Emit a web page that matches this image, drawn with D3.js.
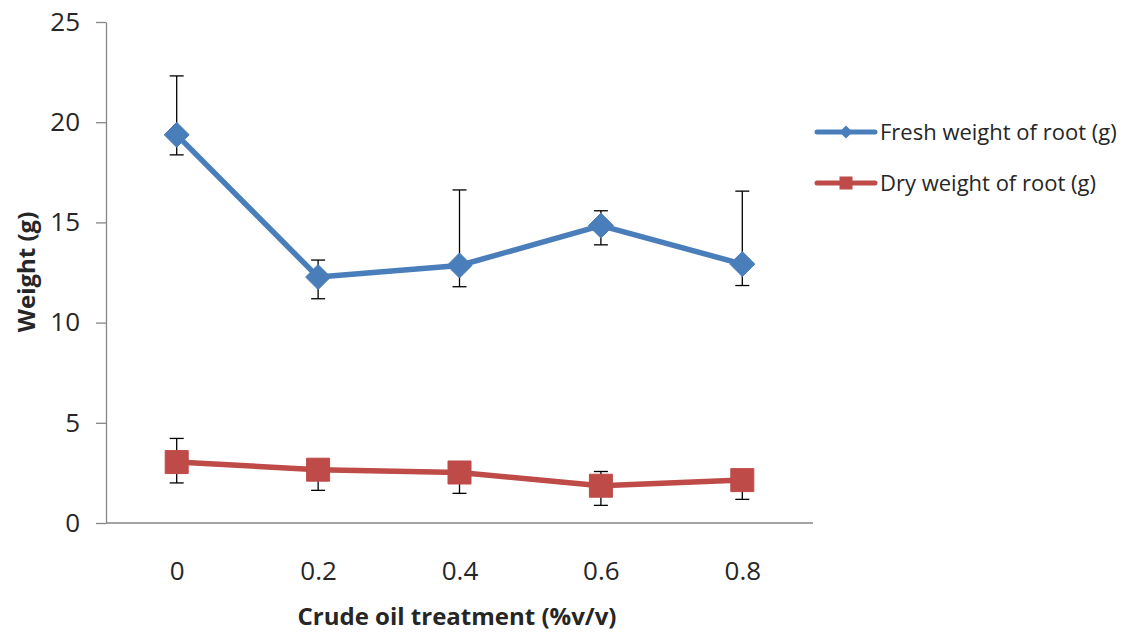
<!DOCTYPE html>
<html>
<head>
<meta charset="utf-8">
<script src="https://cdn.jsdelivr.net/npm/d3@7"></script>
<style>
  html, body { margin: 0; padding: 0; background: #ffffff; }
  svg { display: block; }
  text { font-family: "Open Sans", "Liberation Sans", sans-serif; fill: #262626; }
</style>
</head>
<body>
<svg id="chart" width="1135" height="633"></svg>
<script>
// ---- data ----
const categories = ["0", "0.2", "0.4", "0.6", "0.8"];
const freshMean = [19.37, 12.27, 12.85, 14.84, 12.92];
const freshHigh = [22.31, 13.12, 16.62, 15.58, 16.56];
const freshLow  = [18.37, 11.19, 11.79, 13.88, 11.85];
const dryMean = [3.04, 2.66, 2.52, 1.86, 2.14];
const dryHigh = [4.22, 2.90, 2.80, 2.57, 2.40];
const dryLow  = [2.00, 1.63, 1.48, 0.88, 1.18];
const yTicks = [0, 5, 10, 15, 20, 25];
const seriesNames = ["Fresh weight of root (g)", "Dry weight of root (g)"];
const xTitle = "Crude oil treatment (%v/v)";
const yTitle = "Weight (g)";

const series = [
  { name: seriesNames[0], mean: freshMean, high: freshHigh, low: freshLow, color: "#4A7EBB", marker: "diamond" },
  { name: seriesNames[1], mean: dryMean, high: dryHigh, low: dryLow, color: "#BE4B48", marker: "square" }
];

const svg = d3.select("#chart");
const plot = { left: 106, right: 813, top: 22, bottom: 523 };

const x = d3.scalePoint().domain(categories).range([plot.left, plot.right]).padding(0.5);
const y = d3.scaleLinear().domain([0, 25]).range([plot.bottom, plot.top]);

// y axis
const yAxis = svg.append("g")
  .attr("transform", `translate(${plot.left},0)`)
  .call(d3.axisLeft(y).tickValues(yTicks).tickSize(10).tickPadding(16).tickSizeOuter(0));
yAxis.select(".domain").attr("stroke", "#868686").attr("stroke-width", 1.3);
yAxis.selectAll(".tick line").attr("stroke", "#868686").attr("stroke-width", 1.3);
yAxis.selectAll(".tick text").attr("font-size", 26).attr("fill", "#262626")
  .attr("font-family", "'Open Sans', sans-serif");

// x axis
const xAxis = svg.append("g")
  .attr("transform", `translate(0,${plot.bottom})`)
  .call(d3.axisBottom(x).tickSize(0).tickPadding(39).tickSizeOuter(0));
xAxis.select(".domain").attr("stroke", "#868686").attr("stroke-width", 1.3)
  .attr("d", `M${plot.left},0H${plot.right}`);
xAxis.selectAll(".tick text").attr("font-size", 26).attr("fill", "#262626")
  .attr("font-family", "'Open Sans', sans-serif");

// axis titles
svg.append("text")
  .attr("x", 457).attr("y", 625)
  .attr("text-anchor", "middle").attr("font-size", 24).attr("font-weight", "bold")
  .text(xTitle);
svg.append("text")
  .attr("transform", `translate(35,272) rotate(-90)`)
  .attr("text-anchor", "middle").attr("font-size", 24).attr("font-weight", "bold")
  .text(yTitle);

function markerPath(type, size) {
  const h = size / 2;
  if (type === "diamond") {
    return `M0,${-h}L${h},0L0,${h}L${-h},0Z`;
  }
  return `M${-h},${-h}H${h}V${h}H${-h}Z`;
}

// error bars
series.forEach(s => {
  const g = svg.append("g").attr("stroke", "#000").attr("stroke-width", 1.3).attr("fill", "none");
  categories.forEach((c, i) => {
    const cx = x(c);
    g.append("line").attr("x1", cx).attr("x2", cx).attr("y1", y(s.low[i])).attr("y2", y(s.high[i]));
    g.append("line").attr("x1", cx - 7).attr("x2", cx + 7).attr("y1", y(s.low[i])).attr("y2", y(s.low[i]));
    g.append("line").attr("x1", cx - 7).attr("x2", cx + 7).attr("y1", y(s.high[i])).attr("y2", y(s.high[i]));
  });
});

// lines and markers
series.forEach(s => {
  const line = d3.line().x((d, i) => x(categories[i])).y(d => y(d));
  svg.append("path").datum(s.mean)
    .attr("d", line).attr("fill", "none").attr("stroke", s.color)
    .attr("stroke-width", 5.5).attr("stroke-linejoin", "round");
  svg.append("g").selectAll("path").data(s.mean).join("path")
    .attr("transform", (d, i) => `translate(${x(categories[i])},${y(d)})`)
    .attr("d", markerPath(s.marker, s.marker === "diamond" ? 25 : 23))
    .attr("fill", s.color).attr("stroke", s.color).attr("stroke-width", 1)
    .attr("stroke-linejoin", "round");
});

// legend
const legendY = [132, 183];
series.forEach((s, i) => {
  const g = svg.append("g").attr("transform", `translate(817,${legendY[i]})`);
  g.append("line").attr("x1", 0).attr("x2", 58).attr("stroke", s.color).attr("stroke-width", 5)
    .attr("stroke-linecap", "round");
  g.append("path").attr("transform", "translate(29,0)")
    .attr("d", markerPath(s.marker, 13))
    .attr("fill", s.color);
  g.append("text").attr("x", 63).attr("y", 0).attr("dy", "0.35em")
    .attr("font-size", 22).text(s.name);
});
</script>
</body>
</html>
